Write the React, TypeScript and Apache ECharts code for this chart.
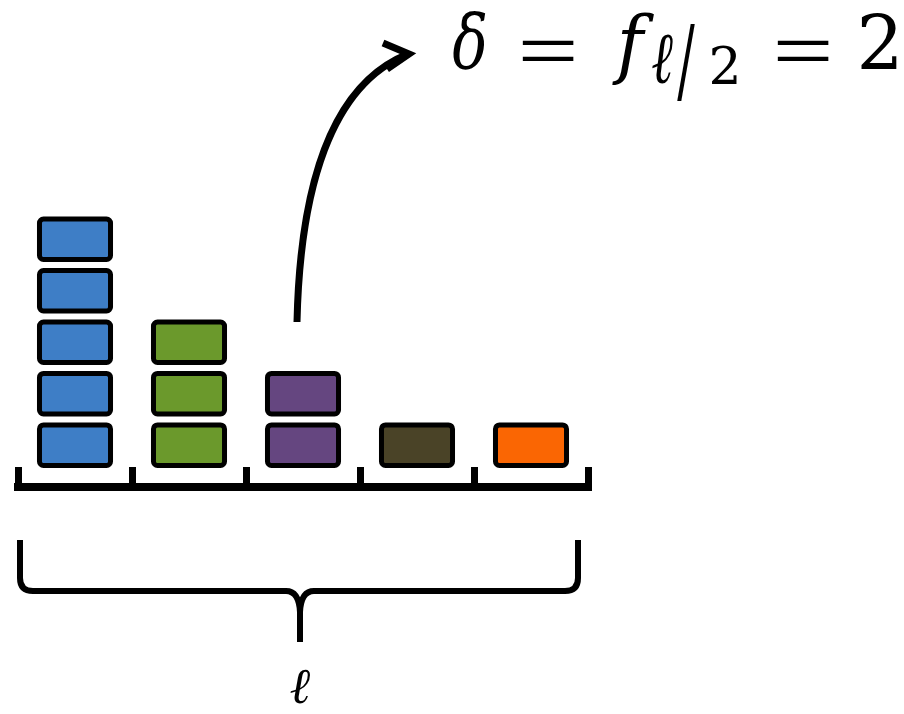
import React, { useEffect, useRef } from "react";
import * as echarts from "echarts";

// Block counts per position along the axis, and one colour per column.
const categories = ["1", "2", "3", "4", "5"];
const blockCounts = [5, 3, 2, 1, 1];
const blockColors = ["#3E7EC6", "#6B992C", "#654680", "#4A4327", "#FA6603"];

// Middle position (ℓ/2) whose count is called out by the formula.
const middleIndex = 2;

const SERIF = "DejaVu Serif";
const THIN = "Roboto";

// Curly brace under the axis, spanning the whole length ℓ.
const BRACE_PATH =
  "M20 540 L20 578 Q20 591 33 591 L286 591 Q299 591 300 612 L300 642 " +
  "M300 612 Q301 591 314 591 L565 591 Q578 591 578 578 L578 540";
echarts.graphic.registerShape("brace", echarts.graphic.extendPath(BRACE_PATH, {}));

type GlyphOpts = {
  italic?: boolean;
  family?: string;
  weight?: number | string;
  scaleX?: number;
  scaleY?: number;
};

export default function App() {
  const ref = useRef<HTMLDivElement>(null);

  useEffect(() => {
    if (!ref.current) return;
    const chart = echarts.init(ref.current, null, { renderer: "svg" });

    const data = blockCounts.map((n, i) => [i, n]);
    const delta = blockCounts[middleIndex];

    // One glyph of the formula, centred on (x, y) and stretched about that point.
    const glyph = (text: string, x: number, y: number, size: number, o: GlyphOpts = {}) => ({
      type: "text",
      x,
      y,
      scaleX: o.scaleX ?? 1,
      scaleY: o.scaleY ?? 1,
      style: {
        text,
        fill: "#000",
        fontFamily: o.family ?? SERIF,
        fontSize: size,
        fontWeight: o.weight ?? "normal",
        fontStyle: o.italic ? "italic" : "normal",
        lineHeight: 30,
        align: "center",
        verticalAlign: "middle",
      },
    });

    chart.setOption({
      animation: false,
      backgroundColor: "#ffffff",
      grid: { left: 18, right: 316, top: 159, bottom: 227 },
      xAxis: {
        type: "category",
        data: categories,
        boundaryGap: true,
        axisLine: {
          show: true,
          onZero: false,
          lineStyle: { color: "#000", width: 8, cap: "square" },
        },
        axisTick: {
          show: true,
          inside: true,
          interval: 0,
          length: 20,
          lineStyle: { color: "#000", width: 7 },
        },
        axisLabel: { show: false },
        splitLine: { show: false },
      },
      yAxis: {
        type: "value",
        min: -0.37,
        max: 6,
        show: false,
        splitLine: { show: false },
      },
      series: [
        {
          type: "custom",
          data,
          renderItem: (params: any, api: any) => {
            const idx = api.value(0);
            const n = api.value(1);
            const bandW = api.size([1, 0])[0];
            const outerW = bandW * 0.667;
            const gap = 6;
            const sw = 5;
            const children: any[] = [];
            for (let k = 0; k < n; k++) {
              const [cx, yb] = api.coord([idx, k]);
              const yt = api.coord([idx, k + 1])[1];
              children.push({
                type: "rect",
                shape: {
                  x: cx - outerW / 2 + sw / 2,
                  y: yt + gap + sw / 2,
                  width: outerW - sw,
                  height: yb - yt - gap - sw,
                  r: 4,
                },
                style: {
                  fill: blockColors[idx],
                  stroke: "#000",
                  lineWidth: sw,
                },
              });
            }
            return { type: "group", children };
          },
        },
      ],
      graphic: [
        {
          type: "brace",
          x: 0,
          y: 0,
          style: { fill: "none", stroke: "#000", lineWidth: 6 },
        },
        glyph("ℓ", 300, 686, 50, { italic: true }),
        {
          type: "bezierCurve",
          shape: {
            x1: 297,
            y1: 322,
            cpx1: 300,
            cpy1: 190,
            cpx2: 330,
            cpy2: 85,
            x2: 408,
            y2: 54,
          },
          style: { fill: "none", stroke: "#000", lineWidth: 7 },
        },
        {
          type: "polyline",
          shape: { points: [[383, 43], [409, 54], [387, 69]] },
          style: { fill: "none", stroke: "#000", lineWidth: 7 },
        },
        glyph("δ", 470, 43, 74, { italic: true, scaleX: 0.8 }),
        glyph("=", 548, 49, 80, { family: THIN, weight: 300, scaleX: 1.55 }),
        glyph("f", 630, 43, 74, { italic: true, scaleX: 0.97 }),
        glyph("ℓ", 662, 58, 52, { italic: true, scaleY: 1.4 }),
        glyph("/", 686, 60, 52, { scaleY: 1.8 }),
        glyph("2", 725, 66, 52),
        glyph("=", 803, 49, 80, { family: THIN, weight: 300, scaleX: 1.55 }),
        glyph(String(delta), 880, 43, 74),
      ],
    });

    return () => chart.dispose();
  }, []);

  return (
    <div
      ref={ref}
      style={{ position: "fixed", left: 0, top: 0, width: 904, height: 714, background: "#fff" }}
    />
  );
}
